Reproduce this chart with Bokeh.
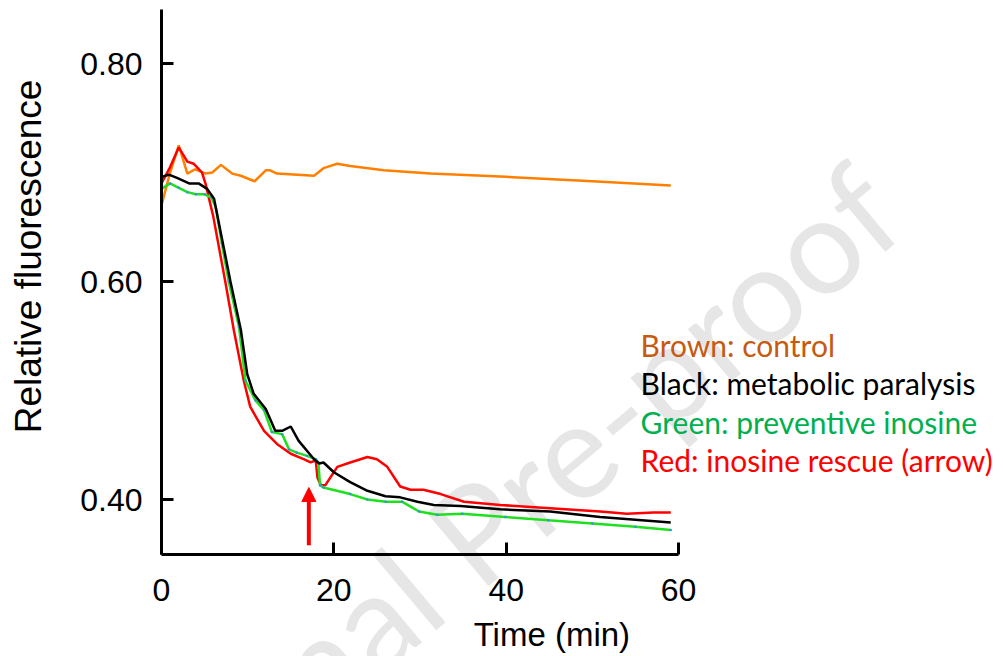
import math
from bokeh.plotting import figure
from bokeh.models import Range1d, Label, Arrow, NormalHead, FixedTicker, NumeralTickFormatter
from bokeh.embed import file_html
from bokeh.resources import INLINE

# ---------------- data ----------------
control_t = [0, 1.0, 2.0, 3.0, 3.9, 5.1, 5.9, 6.9, 8.2, 9.2, 10.8, 12.1, 12.6, 13.4,
             17.7, 18.8, 20.4, 21.9, 25.8, 31.2, 40, 50, 59.1]
control_v = [0.670, 0.700, 0.725, 0.699, 0.703, 0.699, 0.700, 0.707, 0.699, 0.697, 0.692,
             0.702, 0.702, 0.699, 0.697, 0.704, 0.708, 0.706, 0.702, 0.699, 0.696, 0.692, 0.688]

paralysis_t = [0, 0.85, 1.8, 3.2, 4.3, 5.3, 6.1, 7.0, 8.0, 9.2, 9.95, 10.7, 12.1, 13.2, 14.0,
               15.0, 15.9, 17.7, 18.3, 18.8, 20.0, 21.9, 23.9, 26.0, 27.7, 29.7, 31.6, 34.7,
               39.3, 45.1, 50.9, 59.1]
paralysis_v = [0.696, 0.698, 0.695, 0.690, 0.690, 0.685, 0.676, 0.640, 0.600, 0.556, 0.515,
               0.497, 0.483, 0.463, 0.463, 0.467, 0.454, 0.437, 0.433, 0.434, 0.425, 0.416,
               0.408, 0.403, 0.402, 0.398, 0.395, 0.394, 0.391, 0.389, 0.384, 0.379]

preventive_t = [0, 1.0, 2.0, 3.0, 4.0, 5.0, 5.8, 6.3, 7.0, 7.8, 9.0, 9.75, 10.9, 11.9, 12.8,
                14.0, 14.8, 15.7, 16.9, 17.9, 18.2, 18.4, 18.8, 21.9, 23.9, 26.0, 27.9, 29.9,
                32.0, 34.9, 39.9, 44.9, 50.0, 55.0, 59.1]
preventive_v = [0.685, 0.690, 0.686, 0.682, 0.680, 0.680, 0.677, 0.668, 0.635, 0.600, 0.558,
                0.509, 0.491, 0.482, 0.462, 0.460, 0.446, 0.443, 0.440, 0.437, 0.434, 0.413,
                0.411, 0.405, 0.400, 0.398, 0.398, 0.389, 0.386, 0.387, 0.384, 0.381, 0.378,
                0.375, 0.372]

rescue_t = [0, 1.0, 2.0, 3.0, 3.75, 4.7, 5.1, 6.0, 7.4, 8.4, 9.55, 10.3, 11.9, 13.4, 15.0,
            16.5, 17.3, 17.9, 18.1, 18.5, 19.0, 20.4, 21.9, 23.9, 25.0, 26.2, 27.7, 28.9,
            30.4, 32.4, 35.1, 39.3, 45.1, 50.9, 54.0, 57.1, 59.1]
rescue_v = [0.690, 0.705, 0.723, 0.710, 0.708, 0.700, 0.690, 0.660, 0.600, 0.555, 0.509,
            0.485, 0.463, 0.451, 0.442, 0.437, 0.434, 0.436, 0.420, 0.413, 0.413, 0.430,
            0.434, 0.439, 0.437, 0.430, 0.412, 0.409, 0.409, 0.405, 0.398, 0.395, 0.392,
            0.389, 0.387, 0.388, 0.388]

arrow_time = 17.1
arrow_from = 0.358
arrow_to = 0.411

x_ticks = [0, 20, 40, 60]
y_ticks = [0.40, 0.60, 0.80]

legend_texts = ["Brown: control", "Black: metabolic paralysis",
                "Green: preventive inosine", "Red: inosine rescue (arrow)"]
legend_colors = ["#C55A11", "#000000", "#00B050", "#FF0000"]

# ---------------- figure ----------------
# The frame fills the whole canvas so that texts outside the axes box are not clipped;
# the axes are pinned at t=0 and F=0.35 and bounded to the data box.
p = figure(width=1003, height=656, output_backend="svg", toolbar_location=None,
           x_range=Range1d(-18.684, 97.714), y_range=Range1d(0.2560, 0.8578),
           min_border=0)
p.outline_line_color = None
p.xgrid.visible = False
p.ygrid.visible = False
p.background_fill_color = "white"
p.border_fill_color = "white"

for ax in (p.xaxis[0], p.yaxis[0]):
    ax.axis_line_width = 3
    ax.axis_line_color = "black"
    ax.major_tick_line_width = 3
    ax.major_tick_line_color = "black"
    ax.major_tick_in = 12
    ax.major_tick_out = 0
    ax.minor_tick_line_color = None
    ax.major_label_text_font = "Liberation Sans"
    ax.major_label_text_font_size = "32px"
    ax.major_label_text_color = "black"

p.xaxis.fixed_location = 0.35
p.xaxis.bounds = (0, 60)
p.yaxis.fixed_location = 0
p.yaxis.bounds = (0.35, 0.85)
p.xaxis.ticker = FixedTicker(ticks=x_ticks)
p.yaxis.ticker = FixedTicker(ticks=y_ticks)
p.yaxis.formatter = NumeralTickFormatter(format="0.00")
p.xaxis.major_label_standoff = 25
p.yaxis.major_label_standoff = 19

# watermark
p.add_layout(Label(text="Journal Pre-proof", x=37.6, y=0.3800, angle=0.70,
                   text_align="center", text_baseline="middle",
                   text_font="Lato", text_font_size="134px", text_color="#E6E6E6",
                   level="underlay"))

# series
p.line(control_t, control_v, line_color="#FF8000", line_width=2.5)
p.line(rescue_t, rescue_v, line_color="#FF0000", line_width=2.5)
p.line(preventive_t, preventive_v, line_color="#1EE01E", line_width=2.5)
p.scatter(preventive_t, preventive_v, size=2.5, fill_color="#3A8FE0", line_color=None)
p.line(paralysis_t, paralysis_v, line_color="#000000", line_width=2.5)

# arrow marking the rescue
p.add_layout(Arrow(end=NormalHead(size=14, fill_color="#FF0000", line_color="#FF0000"),
                   x_start=arrow_time, y_start=arrow_from, x_end=arrow_time, y_end=arrow_to,
                   line_color="#FF0000", line_width=4))

# axis titles
p.add_layout(Label(text="Relative fluorescence", x=-15.4, y=0.623, angle=math.pi / 2,
                   text_align="center", text_baseline="middle",
                   text_font="Liberation Sans", text_font_size="37px", text_color="black"))
p.add_layout(Label(text="Time (min)", x=45.3, y=0.2760,
                   text_align="center", text_baseline="alphabetic",
                   text_font="Liberation Sans", text_font_size="33px", text_color="black"))

# legend texts
legend_y = [0.5420, 0.5067, 0.4710, 0.4365]
for txt, col, yy in zip(legend_texts, legend_colors, legend_y):
    p.add_layout(Label(text=txt, x=55.6, y=yy, text_align="left", text_baseline="alphabetic",
                       text_font="Lato", text_font_size="30px", text_color=col))

open("out.html", "w").write(file_html(p, INLINE))
